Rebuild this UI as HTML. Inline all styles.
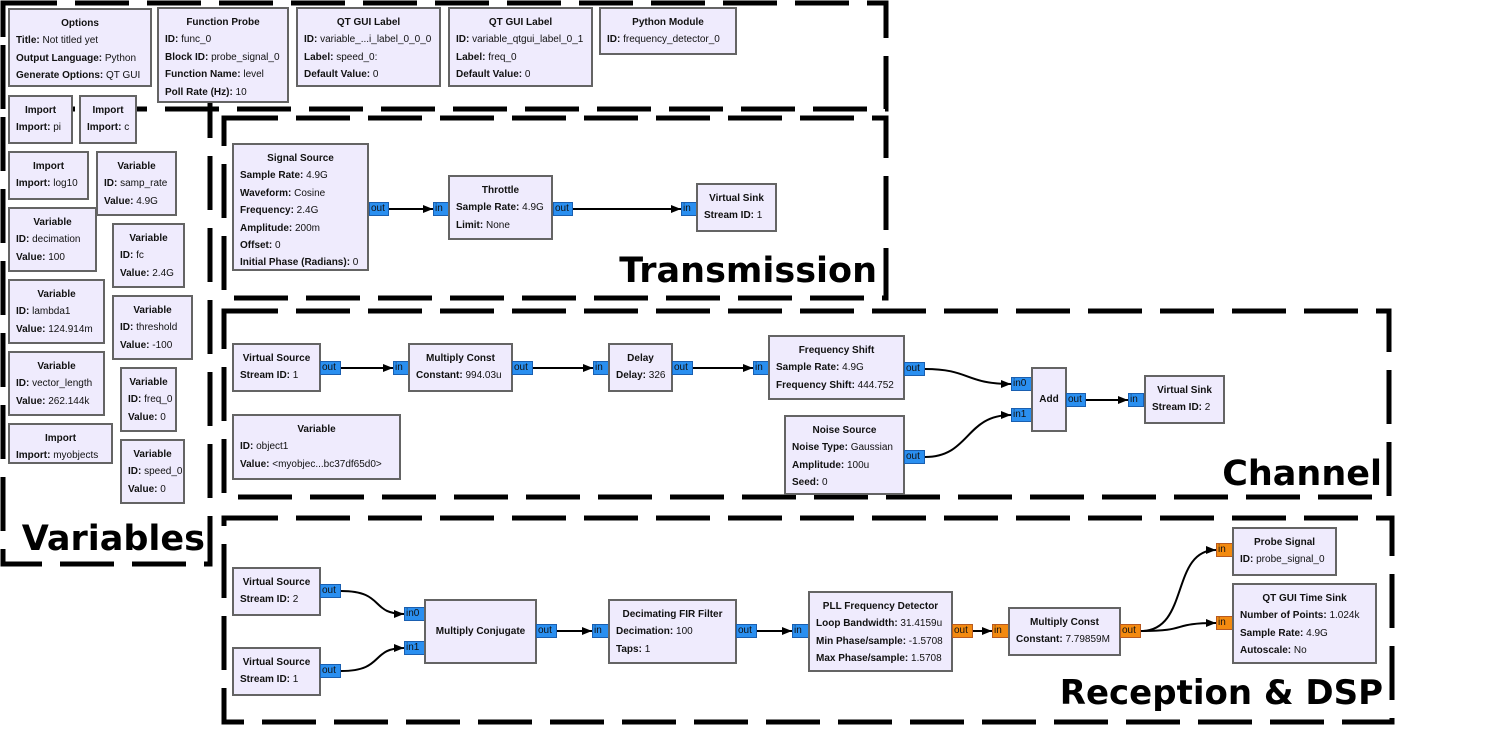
<!DOCTYPE html>
<html><head><meta charset="utf-8"><style>
body{margin:0;width:1498px;height:739px;background:#fff;position:relative;overflow:hidden;font-family:"Liberation Sans",sans-serif;}
svg{position:absolute;left:0;top:0}
.b{position:absolute;box-sizing:border-box;background:#efebfd;border:2px solid #646464;font-size:10px;color:#111;padding:5px 6px 0 6px;line-height:17.4px;white-space:nowrap}
.b .t{font-weight:bold;text-align:center}
.b b{font-weight:bold}
.p{position:absolute;box-sizing:border-box;background:#2a8ff0;border:1px solid #1a5fb0;font-size:10px;line-height:12px;height:14px;color:#111;padding-left:1px}
.o{background:#f38a10;border-color:#b85a20}
.g{position:absolute;font-weight:bold;font-size:35px;color:#000;white-space:nowrap;line-height:1;font-family:"DejaVu Sans","Liberation Sans",sans-serif;text-align:right;width:600px}
</style></head><body>
<svg width="1498" height="739">
<defs><marker id="a" markerWidth="10" markerHeight="8" refX="10" refY="4" orient="auto" markerUnits="userSpaceOnUse"><path d="M0,0L10,4L0,8z" fill="#000"/></marker></defs>
<g fill="none" stroke="#000" stroke-width="5" stroke-dasharray="54 18">
<rect x="3" y="3" width="883" height="106"/>
<rect x="3" y="3" width="207" height="561"/>
<rect x="224" y="118" width="662" height="180"/>
<rect x="224" y="311" width="1165" height="186"/>
<rect x="224" y="518" width="1168" height="204"/>
</g>
<g fill="none" stroke="#000" stroke-width="2">
<path d="M389,209H433" marker-end="url(#a)"/>
<path d="M573,209H681" marker-end="url(#a)"/>
<path d="M341,368H393" marker-end="url(#a)"/>
<path d="M533,368H593" marker-end="url(#a)"/>
<path d="M693,368H753" marker-end="url(#a)"/>
<path d="M925,369C970,369 965,384 1011,384" marker-end="url(#a)"/>
<path d="M925,457C970,457 965,415 1011,415" marker-end="url(#a)"/>
<path d="M1086,400H1128" marker-end="url(#a)"/>
<path d="M341,591C385,591 370,614 404,614" marker-end="url(#a)"/>
<path d="M341,671C385,671 370,648 404,648" marker-end="url(#a)"/>
<path d="M557,631H592" marker-end="url(#a)"/>
<path d="M757,631H792" marker-end="url(#a)"/>
<path d="M973,631H992" marker-end="url(#a)"/>
<path d="M1141,631C1190,631 1170,550 1216,550" marker-end="url(#a)"/>
<path d="M1141,631C1190,631 1170,623 1216,623" marker-end="url(#a)"/>
</g>
</svg>

<div class="g" style="left:-395px;top:522px">Variables</div>
<div class="g" style="left:277px;top:254px">Transmission</div>
<div class="g" style="left:782px;top:457px">Channel</div>
<div class="g" style="left:783px;top:676px;font-size:34px">Reception &amp; DSP</div>

<div class="b" style="left:8px;top:8px;width:144px;height:79px"><div class="t">Options</div><div><b>Title:</b> Not titled yet</div><div><b>Output Language:</b> Python</div><div><b>Generate Options:</b> QT GUI</div></div>
<div class="b" style="left:157px;top:7px;width:132px;height:96px"><div class="t">Function Probe</div><div><b>ID:</b> func_0</div><div><b>Block ID:</b> probe_signal_0</div><div><b>Function Name:</b> level</div><div><b>Poll Rate (Hz):</b> 10</div></div>
<div class="b" style="left:296px;top:7px;width:145px;height:80px"><div class="t">QT GUI Label</div><div><b>ID:</b> variable_...i_label_0_0_0</div><div><b>Label:</b> speed_0:</div><div><b>Default Value:</b> 0</div></div>
<div class="b" style="left:448px;top:7px;width:145px;height:80px"><div class="t">QT GUI Label</div><div><b>ID:</b> variable_qtgui_label_0_1</div><div><b>Label:</b> freq_0</div><div><b>Default Value:</b> 0</div></div>
<div class="b" style="left:599px;top:7px;width:138px;height:48px"><div class="t">Python Module</div><div><b>ID:</b> frequency_detector_0</div></div>

<div class="b" style="left:8px;top:95px;width:65px;height:49px"><div class="t">Import</div><div><b>Import:</b> pi</div></div>
<div class="b" style="left:79px;top:95px;width:58px;height:49px"><div class="t">Import</div><div><b>Import:</b> c</div></div>
<div class="b" style="left:8px;top:151px;width:81px;height:49px"><div class="t">Import</div><div><b>Import:</b> log10</div></div>
<div class="b" style="left:96px;top:151px;width:81px;height:65px"><div class="t">Variable</div><div><b>ID:</b> samp_rate</div><div><b>Value:</b> 4.9G</div></div>
<div class="b" style="left:8px;top:207px;width:89px;height:65px"><div class="t">Variable</div><div><b>ID:</b> decimation</div><div><b>Value:</b> 100</div></div>
<div class="b" style="left:112px;top:223px;width:73px;height:65px"><div class="t">Variable</div><div><b>ID:</b> fc</div><div><b>Value:</b> 2.4G</div></div>
<div class="b" style="left:8px;top:279px;width:97px;height:65px"><div class="t">Variable</div><div><b>ID:</b> lambda1</div><div><b>Value:</b> 124.914m</div></div>
<div class="b" style="left:112px;top:295px;width:81px;height:65px"><div class="t">Variable</div><div><b>ID:</b> threshold</div><div><b>Value:</b> -100</div></div>
<div class="b" style="left:8px;top:351px;width:97px;height:65px"><div class="t">Variable</div><div><b>ID:</b> vector_length</div><div><b>Value:</b> 262.144k</div></div>
<div class="b" style="left:120px;top:367px;width:57px;height:65px"><div class="t">Variable</div><div><b>ID:</b> freq_0</div><div><b>Value:</b> 0</div></div>
<div class="b" style="left:8px;top:423px;width:105px;height:41px"><div class="t">Import</div><div><b>Import:</b> myobjects</div></div>
<div class="b" style="left:120px;top:439px;width:65px;height:65px"><div class="t">Variable</div><div><b>ID:</b> speed_0</div><div><b>Value:</b> 0</div></div>

<div class="b" style="left:232px;top:143px;width:137px;height:128px"><div class="t">Signal Source</div><div><b>Sample Rate:</b> 4.9G</div><div><b>Waveform:</b> Cosine</div><div><b>Frequency:</b> 2.4G</div><div><b>Amplitude:</b> 200m</div><div><b>Offset:</b> 0</div><div><b>Initial Phase (Radians):</b> 0</div></div>
<div class="p" style="left:369px;top:202px;width:20px">out</div>
<div class="p" style="left:433px;top:202px;width:16px">in</div>
<div class="b" style="left:448px;top:175px;width:105px;height:65px"><div class="t">Throttle</div><div><b>Sample Rate:</b> 4.9G</div><div><b>Limit:</b> None</div></div>
<div class="p" style="left:553px;top:202px;width:20px">out</div>
<div class="p" style="left:681px;top:202px;width:16px">in</div>
<div class="b" style="left:696px;top:183px;width:81px;height:49px"><div class="t">Virtual Sink</div><div><b>Stream ID:</b> 1</div></div>

<div class="b" style="left:232px;top:343px;width:89px;height:49px"><div class="t">Virtual Source</div><div><b>Stream ID:</b> 1</div></div>
<div class="p" style="left:320px;top:361px;width:21px">out</div>
<div class="p" style="left:393px;top:361px;width:16px">in</div>
<div class="b" style="left:408px;top:343px;width:105px;height:49px"><div class="t">Multiply Const</div><div><b>Constant:</b> 994.03u</div></div>
<div class="p" style="left:512px;top:361px;width:21px">out</div>
<div class="p" style="left:593px;top:361px;width:16px">in</div>
<div class="b" style="left:608px;top:343px;width:65px;height:49px"><div class="t">Delay</div><div><b>Delay:</b> 326</div></div>
<div class="p" style="left:672px;top:361px;width:21px">out</div>
<div class="p" style="left:753px;top:361px;width:16px">in</div>
<div class="b" style="left:768px;top:335px;width:137px;height:65px"><div class="t">Frequency Shift</div><div><b>Sample Rate:</b> 4.9G</div><div><b>Frequency Shift:</b> 444.752</div></div>
<div class="p" style="left:904px;top:362px;width:21px">out</div>
<div class="b" style="left:232px;top:414px;width:169px;height:66px"><div class="t">Variable</div><div><b>ID:</b> object1</div><div><b>Value:</b> &lt;myobjec...bc37df65d0&gt;</div></div>
<div class="b" style="left:784px;top:415px;width:121px;height:80px"><div class="t">Noise Source</div><div><b>Noise Type:</b> Gaussian</div><div><b>Amplitude:</b> 100u</div><div><b>Seed:</b> 0</div></div>
<div class="p" style="left:904px;top:450px;width:21px">out</div>
<div class="p" style="left:1011px;top:377px;width:21px">in0</div>
<div class="p" style="left:1011px;top:408px;width:21px">in1</div>
<div class="b" style="left:1031px;top:367px;width:36px;height:65px;padding:0;line-height:61px"><div class="t">Add</div></div>
<div class="p" style="left:1066px;top:393px;width:20px">out</div>
<div class="p" style="left:1128px;top:393px;width:16px">in</div>
<div class="b" style="left:1144px;top:375px;width:81px;height:49px"><div class="t">Virtual Sink</div><div><b>Stream ID:</b> 2</div></div>

<div class="b" style="left:232px;top:567px;width:89px;height:49px"><div class="t">Virtual Source</div><div><b>Stream ID:</b> 2</div></div>
<div class="p" style="left:320px;top:584px;width:21px">out</div>
<div class="b" style="left:232px;top:647px;width:89px;height:49px"><div class="t">Virtual Source</div><div><b>Stream ID:</b> 1</div></div>
<div class="p" style="left:320px;top:664px;width:21px">out</div>
<div class="p" style="left:404px;top:607px;width:21px">in0</div>
<div class="p" style="left:404px;top:641px;width:21px">in1</div>
<div class="b" style="left:424px;top:599px;width:113px;height:65px;line-height:61px;padding-top:0"><div class="t">Multiply Conjugate</div></div>
<div class="p" style="left:536px;top:624px;width:21px">out</div>
<div class="p" style="left:592px;top:624px;width:17px">in</div>
<div class="b" style="left:608px;top:599px;width:129px;height:65px"><div class="t">Decimating FIR Filter</div><div><b>Decimation:</b> 100</div><div><b>Taps:</b> 1</div></div>
<div class="p" style="left:736px;top:624px;width:21px">out</div>
<div class="p" style="left:792px;top:624px;width:17px">in</div>
<div class="b" style="left:808px;top:591px;width:145px;height:81px"><div class="t">PLL Frequency Detector</div><div><b>Loop Bandwidth:</b> 31.4159u</div><div><b>Min Phase/sample:</b> -1.5708</div><div><b>Max Phase/sample:</b> 1.5708</div></div>
<div class="p o" style="left:952px;top:624px;width:21px">out</div>
<div class="p o" style="left:992px;top:624px;width:17px">in</div>
<div class="b" style="left:1008px;top:607px;width:113px;height:49px"><div class="t">Multiply Const</div><div><b>Constant:</b> 7.79859M</div></div>
<div class="p o" style="left:1120px;top:624px;width:21px">out</div>
<div class="p o" style="left:1216px;top:543px;width:17px">in</div>
<div class="b" style="left:1232px;top:527px;width:105px;height:49px"><div class="t">Probe Signal</div><div><b>ID:</b> probe_signal_0</div></div>
<div class="p o" style="left:1216px;top:616px;width:17px">in</div>
<div class="b" style="left:1232px;top:583px;width:145px;height:81px"><div class="t">QT GUI Time Sink</div><div><b>Number of Points:</b> 1.024k</div><div><b>Sample Rate:</b> 4.9G</div><div><b>Autoscale:</b> No</div></div>
</body></html>
